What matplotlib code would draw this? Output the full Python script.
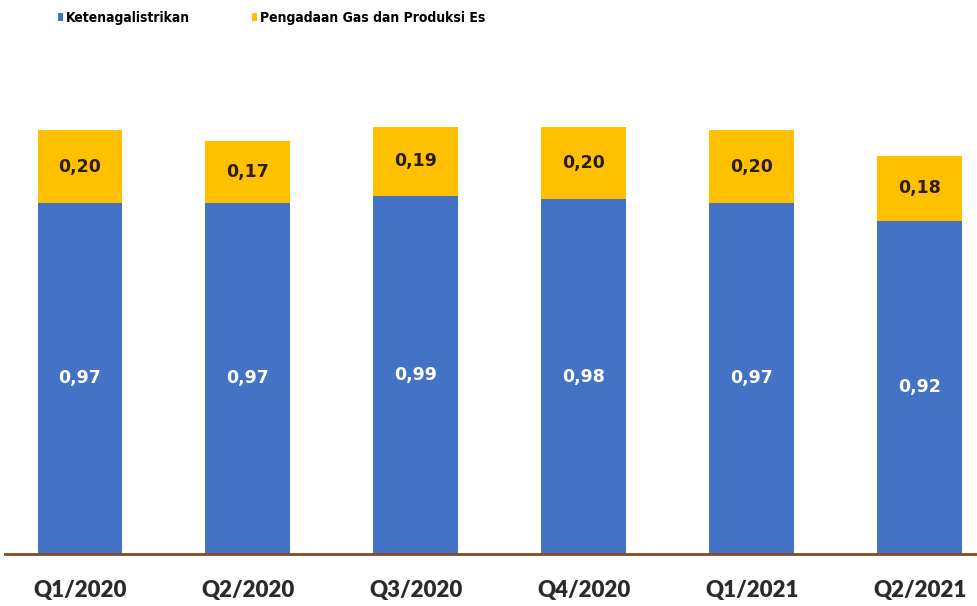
import matplotlib
matplotlib.use("Agg")
import matplotlib.pyplot as plt
import numpy as np

categories = ["Q1/2020", "Q2/2020", "Q3/2020", "Q4/2020", "Q1/2021", "Q2/2021"]
listrik = [0.97, 0.97, 0.99, 0.98, 0.97, 0.92]
gas = [0.20, 0.17, 0.19, 0.20, 0.20, 0.18]
series_names = ["Ketenagalistrikan", "Pengadaan Gas dan Produksi Es"]

plt.rcParams['font.family'] = ['Lato', 'DejaVu Sans']

fig = plt.figure(figsize=(9.77, 6.06), dpi=100)
ax = fig.add_axes([5/977, 52/606, 972/977, 454/606])

x = np.arange(len(categories))
w = 0.505
b1 = ax.bar(x, listrik, w, color='#4472C4', label=series_names[0])
b2 = ax.bar(x, gas, w, bottom=listrik, color='#FFC000', label=series_names[1])

fmt = lambda v: f"{v:.2f}".replace('.', ',')
ax.bar_label(b1, labels=[fmt(v) for v in listrik], label_type='center',
             color='white', fontsize=12.5, fontweight='bold', family='DejaVu Sans')
ax.bar_label(b2, labels=[fmt(v) for v in gas], label_type='center',
             color='#2b1d0e', fontsize=12.5, fontweight='bold', family='DejaVu Sans')

ax.set_xlim(-0.446, 5.34)
ax.set_ylim(0, 454/362)
ax.set_xticks(x)
ax.set_xticklabels(categories, fontsize=16, fontweight='heavy', color='#2a2a2a',
                   family='Lato')
ax.tick_params(axis='x', length=0, pad=19)
ax.set_yticks([])
for s in ['top', 'left', 'right']:
    ax.spines[s].set_visible(False)
ax.spines['bottom'].set_color('#8B4A1C')
ax.spines['bottom'].set_linewidth(2)

leg = fig.legend(handles=[b1, b2], loc='upper left', bbox_to_anchor=(58/977, 1 - 11/606),
                 ncol=2, frameon=False, handlelength=0.35, handleheight=0.5,
                 handletextpad=0.2, columnspacing=4.5, borderpad=0, borderaxespad=0,
                 prop={'family': 'DejaVu Sans', 'stretch': 'condensed',
                       'weight': 'bold', 'size': 10})

fig.savefig("out.png", dpi=100)
